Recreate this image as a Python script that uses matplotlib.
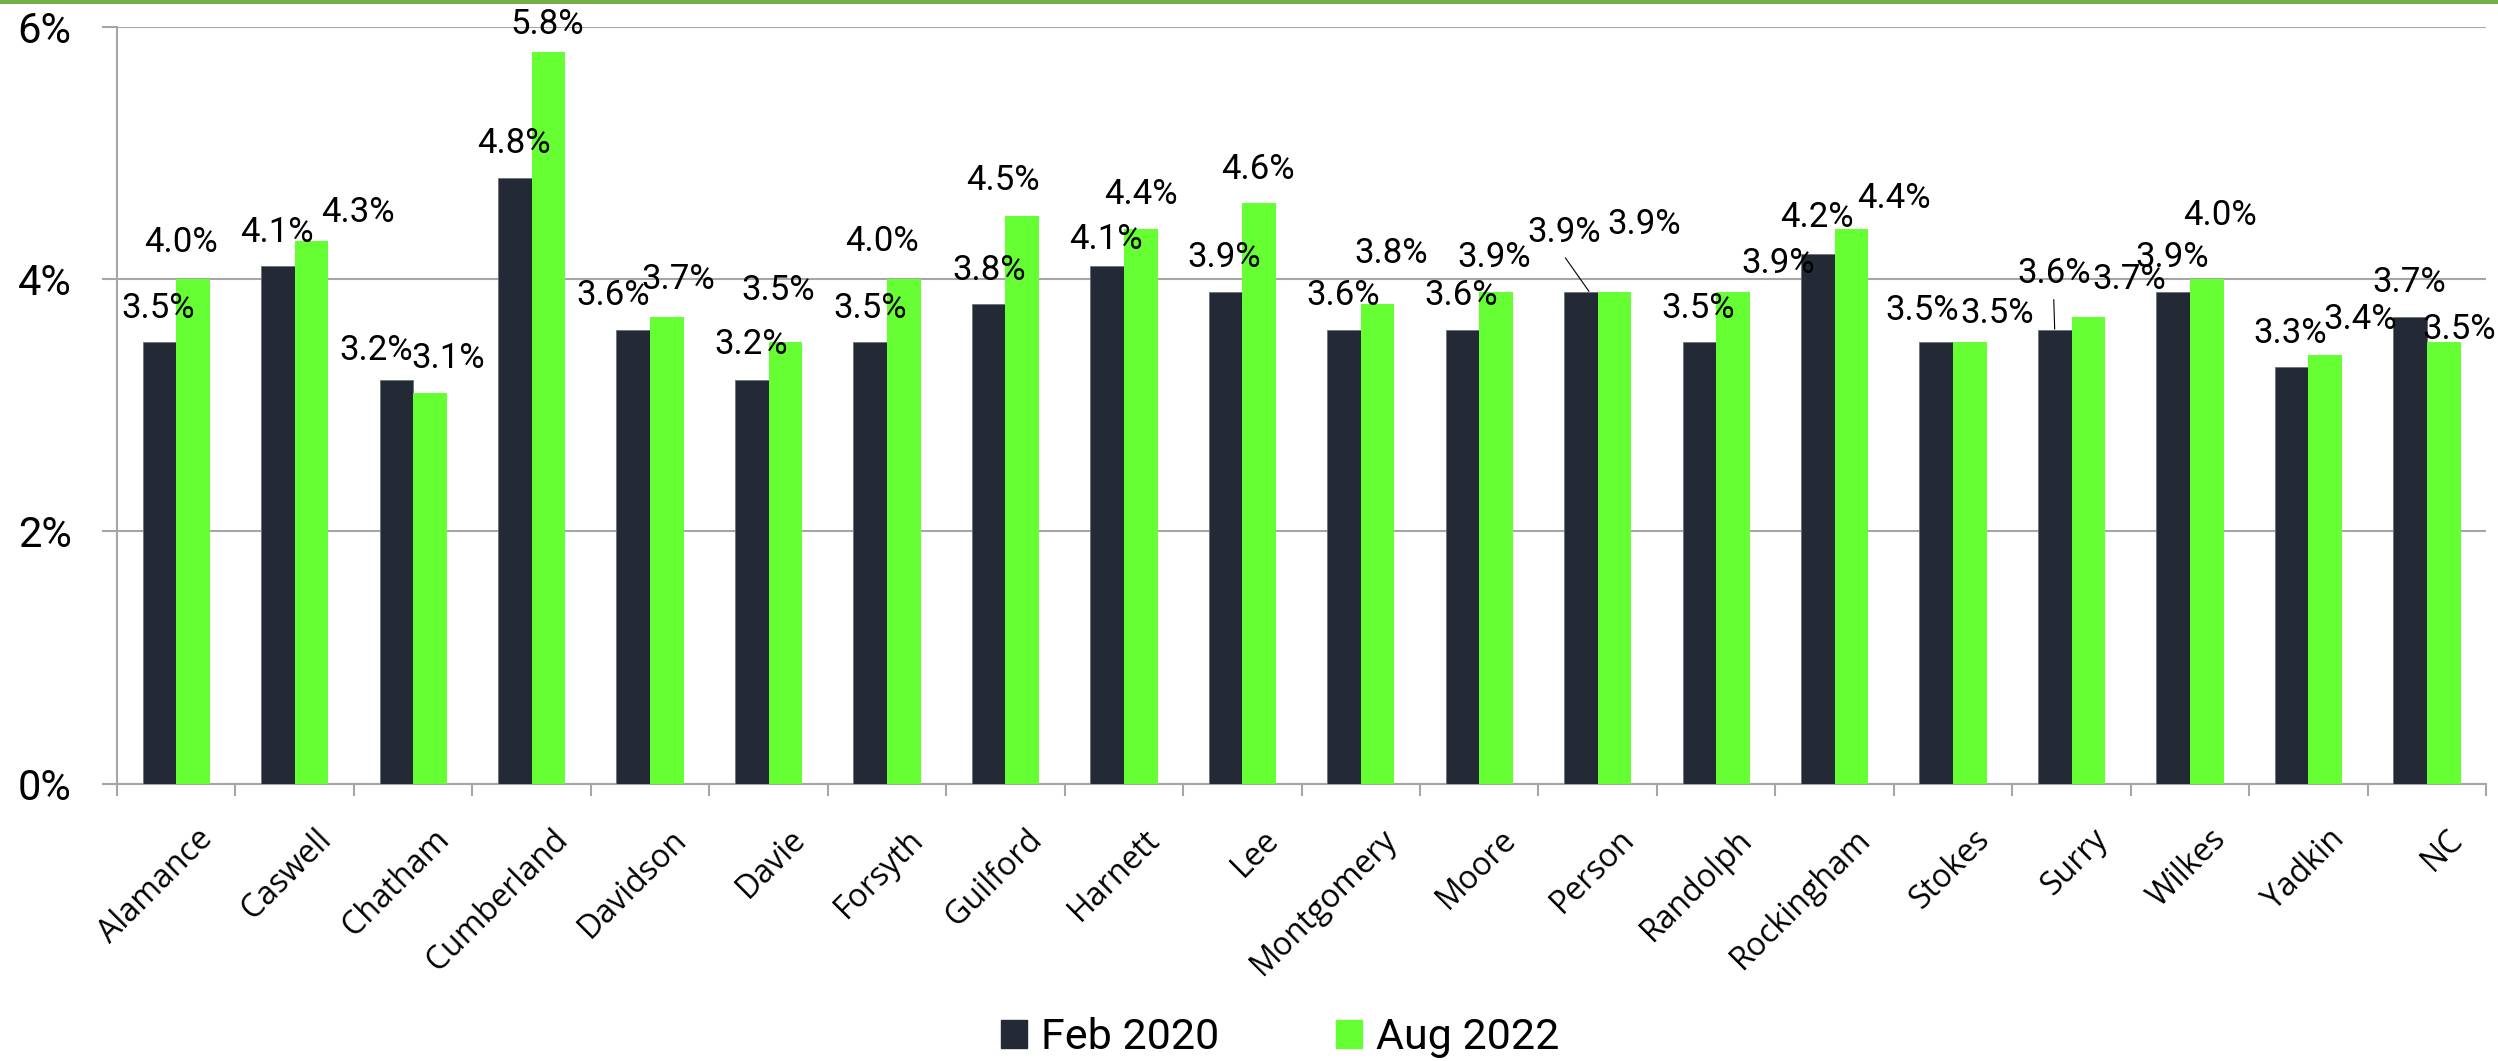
import numpy as np
import matplotlib
matplotlib.use("Agg")
import matplotlib.pyplot as plt
from matplotlib.patches import Patch, Rectangle
import matplotlib.transforms as mtransforms

# ---- data ----
counties = ["Alamance", "Caswell", "Chatham", "Cumberland", "Davidson", "Davie",
            "Forsyth", "Guilford", "Harnett", "Lee", "Montgomery", "Moore",
            "Person", "Randolph", "Rockingham", "Stokes", "Surry", "Wilkes",
            "Yadkin", "NC"]
feb_2020 = [3.5, 4.1, 3.2, 4.8, 3.6, 3.2, 3.5, 3.8, 4.1, 3.9, 3.6, 3.6, 3.9, 3.5,
            4.2, 3.5, 3.6, 3.9, 3.3, 3.7]
aug_2022 = [4.0, 4.3, 3.1, 5.8, 3.7, 3.5, 4.0, 4.5, 4.4, 4.6, 3.8, 3.9, 3.9, 3.9,
            4.4, 3.5, 3.7, 4.0, 3.4, 3.5]
series_names = ["Feb 2020", "Aug 2022"]
y_ticks = [0, 2, 4, 6]

# ---- label placement offsets (category units, value units) ----
feb_dx = [-0.15, -0.15, -0.31, -0.15, -0.31, -0.15, -0.14, -0.14, -0.15, -0.15,
          -0.15, -0.15, -0.28, -0.15, -0.15, -0.26, -0.15, -0.15, -0.15, -0.15]
feb_dy = [0.27, 0.27, 0.23, 0.27, 0.27, 0.28, 0.27, 0.27, 0.21, 0.27,
          0.27, 0.27, 0.47, 0.27, 0.29, 0.25, 0.44, 0.27, 0.27, 0.27]
aug_dx = [0.04, 0.53, 0.30, 0.13, 0.24, 0.08, -0.04, -0.02, 0.14, 0.13,
          0.26, 0.13, 0.39, 0.52, 0.50, 0.37, 0.49, 0.25, 0.44, 0.27]
aug_dy = [0.29, 0.23, 0.27, 0.22, 0.30, 0.41, 0.30, 0.28, 0.27, 0.27,
          0.40, 0.27, 0.53, 0.22, 0.24, 0.23, 0.30, 0.50, 0.28, 0.10]

# ---- style ----
DARK = "#232A35"
GREEN = "#66FF33"
GRID = "#A6A6A6"
NARROW = ["Liberation Sans Narrow", "Roboto", "DejaVu Sans"]
CAT_FONT = ["Open Sans", "DejaVu Sans"]

fig = plt.figure(figsize=(24.98, 10.61), dpi=100)
ax = fig.add_axes([0.04684, 0.2611, 0.9484, 0.7139])

x = np.arange(len(counties))
w = 0.284
ax.bar(x - w / 2, feb_2020, width=w, color=DARK, edgecolor="#6b717a",
       linewidth=0.6, zorder=3, label=series_names[0])
ax.bar(x + w / 2, aug_2022, width=w, color=GREEN, edgecolor=GREEN,
       linewidth=0.0, zorder=3, label=series_names[1])

ax.set_xlim(-0.5, len(counties) - 0.5)
ax.set_ylim(0, 6)
ax.set_yticks(y_ticks)
ax.set_yticklabels([f"{t}%" for t in y_ticks], fontsize=30, family=NARROW)
ax.yaxis.grid(True, color=GRID, linewidth=1.5, zorder=0)
ax.set_axisbelow(True)
for s in ["top", "right"]:
    ax.spines[s].set_visible(False)
for s in ["left", "bottom"]:
    ax.spines[s].set_color(GRID)
    ax.spines[s].set_linewidth(1.5)
ax.tick_params(axis="y", length=10.8, width=1.5, color=GRID, pad=22)

ax.set_xticks(x)
ax.set_xticklabels(counties, rotation=45, ha="right", rotation_mode="anchor",
                   fontsize=23, family=CAT_FONT)
ax.tick_params(axis="x", which="major", length=0, pad=28)
ax.set_xticks(np.arange(-0.5, len(counties), 1), minor=True)
ax.tick_params(axis="x", which="minor", length=8.6, width=1.5, color=GRID)
shift = mtransforms.ScaledTranslation(20 / 100, 0, fig.dpi_scale_trans)
for lab in ax.get_xticklabels():
    lab.set_transform(lab.get_transform() + shift)

# data labels
for i in range(len(counties)):
    ax.text(x[i] + feb_dx[i], feb_2020[i] + feb_dy[i], f"{feb_2020[i]:.1f}%",
            ha="center", va="center", fontsize=25, family=NARROW, zorder=5)
    ax.text(x[i] + aug_dx[i], aug_2022[i] + aug_dy[i], f"{aug_2022[i]:.1f}%",
            ha="center", va="center", fontsize=25, family=NARROW, zorder=5)

# leader lines for moved labels (Person, Surry - Feb series)
for name, (dx0, dy0) in {"Person": (-0.275, 0.27), "Surry": (-0.15, 0.24)}.items():
    i = counties.index(name)
    ax.plot([x[i] + dx0, x[i] - w / 2 + (0.07 if name == "Person" else 0)],
            [feb_2020[i] + dy0, feb_2020[i]], color="black", linewidth=0.8,
            zorder=6, solid_capstyle="butt")

# legend
handles = [Patch(facecolor=DARK, edgecolor=DARK), Patch(facecolor=GREEN, edgecolor=GREEN)]
fig.legend(handles, series_names, loc="center", bbox_to_anchor=(0.5124, 0.0217),
           ncol=2, frameon=False, prop={"family": NARROW, "size": 31},
           handlelength=0.62, handleheight=0.62, handletextpad=0.32,
           columnspacing=2.7, borderaxespad=0)

# top accent line
fig.add_artist(Rectangle((0, 1 - 3.5 / 1061), 1, 3.5 / 1061, transform=fig.transFigure,
                         facecolor="#74AE46", edgecolor="none"))

fig.savefig("out.png", dpi=100)
